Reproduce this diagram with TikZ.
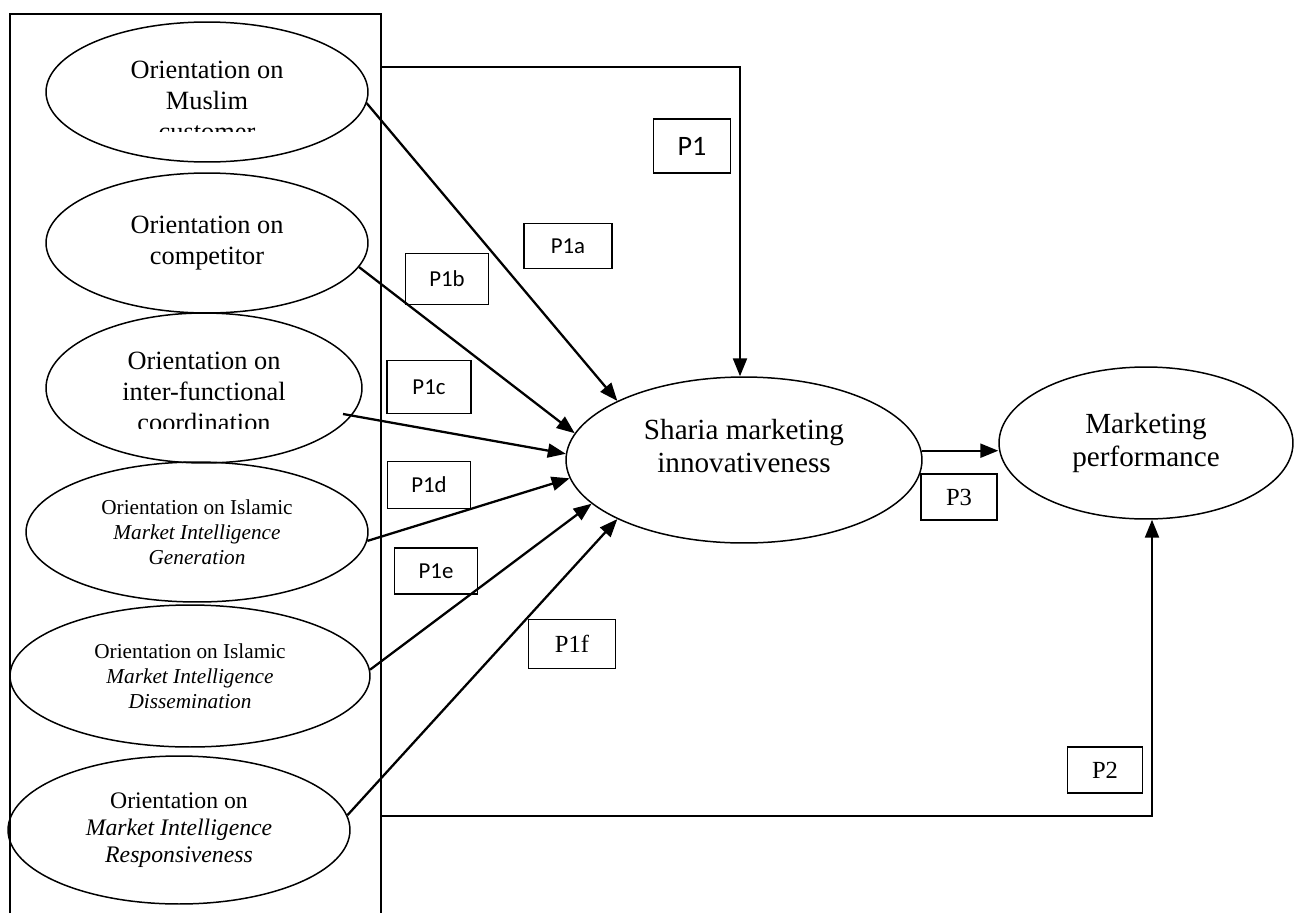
\documentclass[tikz,border=0pt]{standalone}
\usepackage{fontspec}
\setmainfont{Liberation Serif}
\newfontfamily\calibri{Carlito}
\usepackage{tikz}
\usetikzlibrary{arrows.meta, positioning, calc, shapes.geometric}

\begin{document}
\begin{tikzpicture}[x=0.02cm, y=-0.02cm,
    oval/.style={draw, ellipse, line width=0.85pt, inner sep=0pt, align=center},
    bigtxt/.style={font=\fontsize{15}{17.6}\selectfont, align=center},
    smalltxt/.style={font=\fontsize{12.1}{14.2}\selectfont},
    midtxt/.style={font=\fontsize{13.5}{15.4}\selectfont},
    headtxt/.style={font=\fontsize{16.6}{19.2}\selectfont},
    pbox/.style={draw, line width=0.7pt, inner sep=0pt, font=\calibri\fontsize{13}{15}\selectfont},
    arr/.style={-{Triangle[length=0.36cm, width=0.28cm]}, line width=1.3pt}]
    \useasboundingbox (0,0) rectangle (1301,913);

    % 左侧大框（底部开口）
    \draw[line width=0.9pt] (10,913) -- (10,14) -- (381,14) -- (381,913);

    % 左侧六个椭圆
    \node[oval, minimum width=6.44cm, minimum height=2.8cm] (muslim) at (207,92) {};
    \begin{scope}
      \clip (40,20) rectangle (380,131);
      \node[bigtxt] at (207,101) {Orientation on\\Muslim\\customer};
    \end{scope}
    \node[oval, bigtxt, minimum width=6.44cm, minimum height=2.8cm] (comp) at (207,243) {Orientation on\\competitor};
    \node[oval, minimum width=6.32cm, minimum height=3cm] (coord) at (204,388) {};
    \begin{scope}
      \clip (40,320) rectangle (380,428);
      \node[bigtxt] at (204,392) {Orientation on\\inter-functional\\coordination};
    \end{scope}
    \node[oval, smalltxt, minimum width=6.84cm, minimum height=2.8cm] (gen) at (197,532)
      {Orientation on Islamic\\\textit{Market Intelligence}\\\textit{Generation}};
    \node[oval, smalltxt, minimum width=7.2cm, minimum height=2.84cm] (diss) at (190,676)
      {Orientation on Islamic\\\textit{Market Intelligence}\\\textit{Dissemination}};
    \node[oval, midtxt, minimum width=6.84cm, minimum height=2.96cm] (resp) at (179,830)
      {Orientation on\\\textit{Market Intelligence}\\\textit{Responsiveness}};

    % 中间与右侧椭圆
    \node[oval, minimum width=7.12cm, minimum height=3.32cm,
      label={[headtxt, align=center, yshift=0.28cm]center:Sharia marketing\\innovativeness}] (smi) at (744,460) {};
    \node[oval, headtxt, minimum width=5.88cm, minimum height=3.04cm] (perf) at (1146,443) {Marketing\\performance};

    % 命题标签
    \node[pbox, font=\calibri\fontsize{16}{19}\selectfont, minimum width=1.54cm, minimum height=1.08cm] (p1) at (692,146) {P1};
    \node[pbox, minimum width=1.76cm, minimum height=0.9cm] (p1a) at (568,246) {P1a};
    \node[pbox, minimum width=1.66cm, minimum height=1.02cm] (p1b) at (447,279) {P1b};
    \node[pbox, minimum width=1.68cm, minimum height=1.06cm] (p1c) at (429,387) {P1c};
    \node[pbox, minimum width=1.66cm, minimum height=0.94cm] (p1d) at (429,485) {P1d};
    \node[pbox, minimum width=1.66cm, minimum height=0.92cm] (p1e) at (436,571) {P1e};
    \node[pbox, font=\fontsize{14}{16}\selectfont, minimum width=1.74cm, minimum height=0.98cm] (p1f) at (572,644) {P1f};
    \node[pbox, font=\fontsize{14}{16}\selectfont, minimum width=1.5cm, minimum height=0.92cm] (p2) at (1105,770) {P2};
    \node[pbox, font=\fontsize{14}{16}\selectfont, minimum width=1.52cm, minimum height=0.92cm] (p3) at (959,497) {P3};

    % 各维度指向创新性
    \coordinate (coordout) at ($(coord)+(139,26)$);
    \draw[arr] (muslim.-4) -- (smi.155);
    \draw[arr] (comp.-9) -- (smi.171);
    \draw[arr] (coordout) -- (smi.178);
    \draw[arr] (gen.-3) -- (smi.186);
    \draw[arr] (diss.2) -- (smi.196);
    \draw[arr] (resp.5) -- (smi.205);

    % 大框到创新性与绩效
    \coordinate (p1start) at (381,67);
    \coordinate (p2start) at (381,816);
    \draw[arr] (p1start) -| ([xshift=-0.08cm]smi.north);
    \draw[arr] (p2start) -| ([xshift=0.12cm]perf.south);
    \draw[arr] (smi.3) -- (perf.west |- smi.3);
\end{tikzpicture}
\end{document}
